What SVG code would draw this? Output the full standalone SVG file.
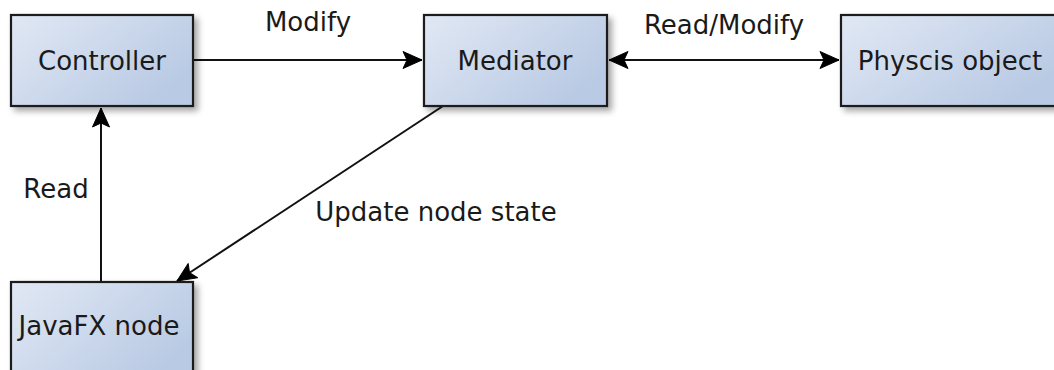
<svg xmlns="http://www.w3.org/2000/svg" width="1054" height="370" viewBox="0 0 1054 370">
  <style>
    .box { fill: url(#boxFill); stroke: #1e1e1e; stroke-width: 2.2; filter: url(#shadow); }
    .label { font-family: "DejaVu Sans", sans-serif; font-size: 26px; fill: #1a1a1a; text-anchor: middle; }
    .edge { fill: none; stroke: #111; stroke-width: 2; }
  </style>
  <defs>
    <linearGradient id="boxFill" x1="0" y1="0" x2="1" y2="0.6">
      <stop offset="0" stop-color="#e1e8f4"/>
      <stop offset="1" stop-color="#b9cae4"/>
    </linearGradient>
    <filter id="shadow" x="-10%" y="-10%" width="130%" height="130%">
      <feDropShadow dx="4" dy="4" stdDeviation="3" flood-color="#000" flood-opacity="0.35"/>
    </filter>
    <!-- solid dart-shaped arrowhead, tip at the line end -->
    <marker id="arrow" viewBox="-21 -10 22 20" refX="0" refY="0" markerWidth="22" markerHeight="20" markerUnits="userSpaceOnUse" orient="auto-start-reverse">
      <path d="M0,0 L-19,-8.5 L-15,0 L-19,8.5 Z" fill="#000" stroke="#000" stroke-width="1" stroke-linejoin="round"/>
    </marker>
  </defs>

  <g id="connectors">
    <line class="edge" x1="193" y1="60" x2="422" y2="60" marker-end="url(#arrow)"/>
    <line class="edge" x1="609" y1="60" x2="839" y2="60" marker-start="url(#arrow)" marker-end="url(#arrow)"/>
    <line class="edge" x1="101" y1="282" x2="101" y2="108" marker-end="url(#arrow)"/>
    <line class="edge" x1="443" y1="106" x2="177" y2="281" marker-end="url(#arrow)"/>
    <text class="label" x="308" y="31">Modify</text>
    <text class="label" x="724" y="34">Read/Modify</text>
    <text class="label" x="56" y="198">Read</text>
    <text class="label" x="436" y="221">Update node state</text>
  </g>

  <g id="controller">
    <rect class="box" x="11" y="15" width="182" height="91"/>
    <text class="label" x="102" y="70">Controller</text>
  </g>
  <g id="mediator">
    <rect class="box" x="424" y="15" width="183" height="91"/>
    <text class="label" x="515" y="70">Mediator</text>
  </g>
  <g id="physics-object">
    <rect class="box" x="841" y="15" width="220" height="91"/>
    <text class="label" x="950" y="70">Physcis object</text>
  </g>
  <g id="javafx-node">
    <rect class="box" x="11" y="282" width="182" height="100"/>
    <text class="label" x="99" y="335">JavaFX node</text>
  </g>
</svg>
